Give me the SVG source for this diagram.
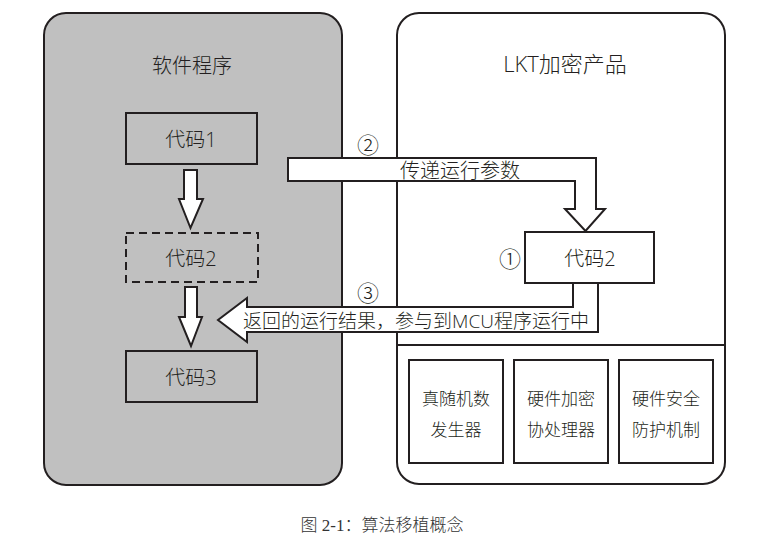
<svg xmlns="http://www.w3.org/2000/svg" width="771" height="553" viewBox="0 0 771 553">
<style>
.ln{stroke:#231f20;stroke-width:2;fill:none}
.box{stroke:#231f20;stroke-width:2;fill:none}
.wbox{stroke:#231f20;stroke-width:2;fill:#ffffff}
.arr{stroke:#231f20;stroke-width:2;fill:#ffffff;stroke-linejoin:miter}
text{font-family:"Open Sans","Noto Sans CJK SC",sans-serif;font-weight:300;fill:#231f20;text-anchor:middle;dominant-baseline:central}
.t20{font-size:20px}
.t17{font-size:17px}
.circ{font-family:"Noto Sans CJK SC",sans-serif;font-size:22px}
.cap{font-family:"Liberation Serif","Noto Sans CJK SC",serif;font-weight:300;font-size:17px;fill:#333333}
</style>
<rect width="771" height="553" fill="#ffffff"/>
<g id="software">
<rect x="44" y="13" width="298" height="472" rx="22" ry="22" fill="#c0c0c0" stroke="#231f20" stroke-width="2"/>
<text class="t20" x="192" y="65">软件程序</text>
</g>
<g id="lkt">
<rect x="397" y="13" width="328" height="471" rx="22" ry="22" fill="#ffffff" stroke="#231f20" stroke-width="2"/>
<line class="ln" x1="397" y1="345" x2="725" y2="345"/>
<text x="565" y="63" style="font-size:22px">LKT加密产品</text>
</g>
<g id="code1">
<rect class="box" x="126" y="113" width="131" height="51"/>
<text class="t20" x="191" y="139">代码1</text>
</g>
<g id="code2-dashed">
<rect class="box" x="126" y="233" width="132" height="49" stroke-dasharray="8,5"/>
<text class="t20" x="191" y="258">代码2</text>
</g>
<g id="code3">
<rect class="box" x="126" y="351" width="131" height="51"/>
<text class="t20" x="191" y="377">代码3</text>
</g>
<g id="code2-lkt">
<rect class="wbox" x="525" y="232" width="129" height="51"/>
<text class="t20" x="590" y="258">代码2</text>
<text class="circ" x="510" y="257">①</text>
</g>
<g id="rng">
<rect class="box" x="409" y="360" width="94" height="103"/>
<text class="t17" x="456" y="398">真随机数</text>
<text class="t17" x="456" y="429">发生器</text>
</g>
<g id="crypto">
<rect class="box" x="514" y="360" width="94" height="103"/>
<text class="t17" x="561" y="398">硬件加密</text>
<text class="t17" x="561" y="429">协处理器</text>
</g>
<g id="security">
<rect class="box" x="619" y="360" width="94" height="103"/>
<text class="t17" x="666" y="398">硬件安全</text>
<text class="t17" x="666" y="429">防护机制</text>
</g>
<g id="connectors">
<path class="arr" d="M184,170 H197 V199 H203 L190.5,228 L179,199 H184 Z"/>
<path class="arr" d="M185,287 H197 V317 H202 L191,346 L179,317 H185 Z"/>
<path class="arr" d="M288,158 H596 V209 H605 L585.5,231 L565,209 H575 V181 H288 Z"/>
<text class="t20" x="460" y="170">传递运行参数</text>
<text class="circ" x="368" y="143">②</text>
<path class="arr" d="M573,284 V307 H247 V298 L218,320 L247,342 V332 H598 V284"/>
<text x="416" y="321" style="font-size:19px">返回的运行结果，参与到MCU程序运行中</text>
<text class="circ" x="368" y="291">③</text>
</g>
<text class="cap" x="382" y="525">图 2-1：算法移植概念</text>
</svg>
